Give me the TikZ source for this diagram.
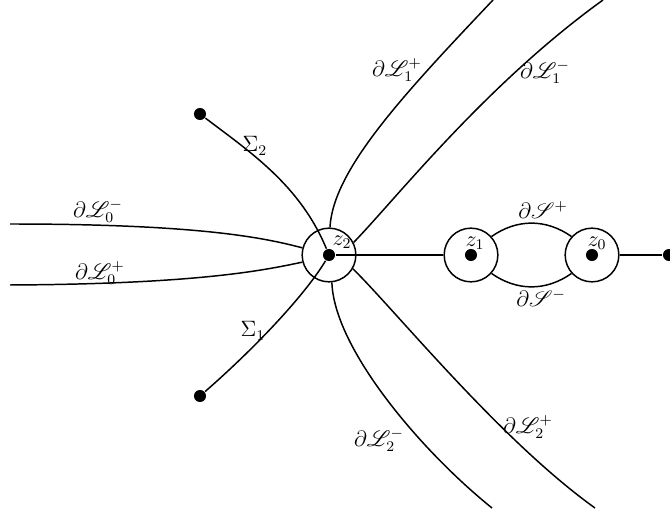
\documentclass[tikz,border=0pt]{standalone}
\usepackage{amsmath,amssymb}
\usepackage{mathrsfs}
\usetikzlibrary{positioning,calc}
\tikzset{
  dot/.style={circle, fill, inner sep=0pt, minimum size=6.5pt},
  ring/.style={circle, draw, inner sep=0pt, minimum size=29pt},
}

\begin{document}
\begin{tikzpicture}[
  x=0.54pt, y=-0.54pt,
  line width=0.8pt,
  lab/.style={inner sep=0pt, font=\large},
]
\useasboundingbox (0,0) rectangle (670,517);

% the three discs
\node[ring] (r2) at (329,255) {};
\node[ring] (r1) at (471,255) {};
\node[ring] (r0) at (592,255) {};

\node[dot] (z2) at (r2) {};
\node[dot] (z1) at (r1) {};
\node[dot] (z0) at (r0) {};
\node[dot] (tip) at (669,255) {};
\node[dot] (s2) at (200,114) {};
\node[dot] (s1) at (200,396) {};

\node[lab] (lz2) at (342,242) {$z_2$};
\node[lab] (lz1) at (475,243) {$z_1$};
\node[lab] (lz0) at (597,243) {$z_0$};

% free ends
\coordinate (a0) at (10,224);
\coordinate (b0) at (10,285);
\coordinate (a1) at (493,0);
\coordinate (b1) at (603,0);
\coordinate (a2) at (492,508);
\coordinate (b2) at (595,508);

\draw (a0) .. controls (200,224) and (265,238) .. (r2.165);
\draw (b0) .. controls (200,284) and (265,270) .. (r2.195);
\draw (r2.88) .. controls (333,170) and (403,95) .. (a1);
\draw (r2.27) .. controls (395,200) and (485,85) .. (b1);
\draw (r2.-84) .. controls (334,348) and (420,450) .. (a2);
\draw (r2.-30) .. controls (395,310) and (500,440) .. (b2);

\draw (s2) .. controls (250,152) and (300,185) .. (z2);
\draw (s1) .. controls (255,348) and (305,295) .. (z2);

\draw (z2) -- (r1);
\draw (r0) -- (tip);
\draw (r1.42) to[out=35,in=145] (r0.138);
\draw (r1.-42) to[out=-35,in=-145] (r0.-138);

\node[lab] (lL0m) at (98,211) {$\partial\mathscr{L}_0^{-}$};
\node[lab] (lL0p) at (100,273) {$\partial\mathscr{L}_0^{+}$};
\node[lab] (lL1p) at (397,70) {$\partial\mathscr{L}_1^{+}$};
\node[lab] (lL1m) at (545,72) {$\partial\mathscr{L}_1^{-}$};
\node[lab] (lL2m) at (379,440) {$\partial\mathscr{L}_2^{-}$};
\node[lab] (lL2p) at (528,427) {$\partial\mathscr{L}_2^{+}$};
\node[lab] (lSp) at (543,210) {$\partial\mathscr{S}^{+}$};
\node[lab] (lSm) at (541,298) {$\partial\mathscr{S}^{-}$};
\node[lab] (ls2) at (255,146) {$\Sigma_2$};
\node[lab] (ls1) at (253,331) {$\Sigma_1$};

\end{tikzpicture}
\end{document}
